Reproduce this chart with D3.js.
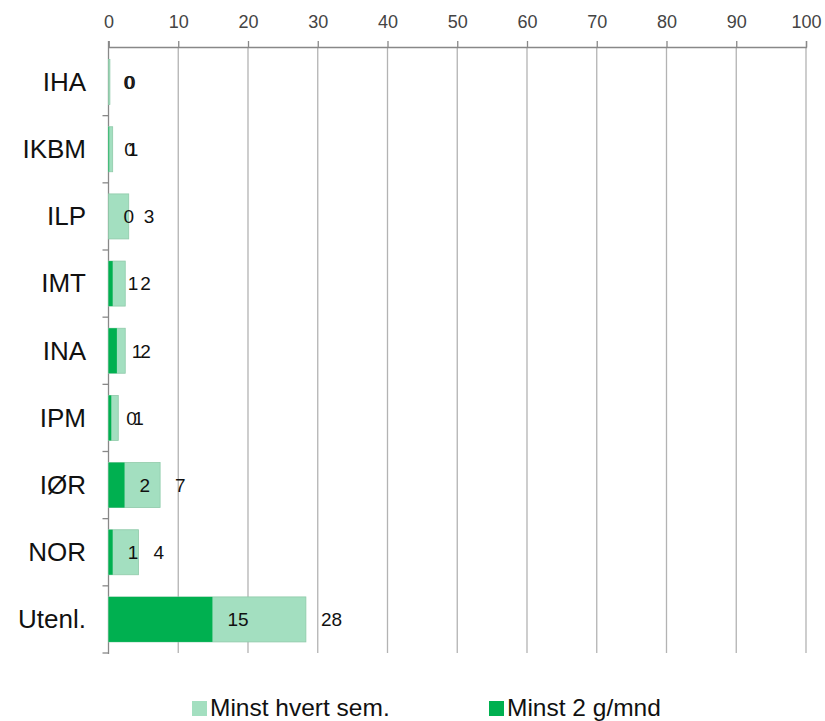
<!DOCTYPE html>
<html><head><meta charset="utf-8">
<script src="https://cdn.jsdelivr.net/npm/d3@7"></script>
<style>body{margin:0;background:#fff;} text{font-family:"Liberation Sans",Arial,sans-serif;}</style>
</head><body>
<svg id="c" width="825" height="721"></svg>
<script>
const categories = ["IHA","IKBM","ILP","IMT","INA","IPM","IØR","NOR","Utenl."];
const minstHvertSem = [0.2,0.6,2.9,2.4,2.4,1.4,7.4,4.3,28.3];
const minst2gMnd = [0.0,0.1,0.0,0.6,1.2,0.4,2.3,0.6,14.9];
const xTicks = [0,10,20,30,40,50,60,70,80,90,100];
const seriesNames = ["Minst hvert sem.","Minst 2 g/mnd"];
const colors = ["#a3dfc0","#00b050"];

const svg = d3.select("#c");
const x = d3.scaleLinear().domain([0,100]).range([108.5,806]);
const y = d3.scaleBand().domain(categories).range([48.5,653]).paddingInner(0.33).paddingOuter(0.165);

// gridlines
svg.append("g").selectAll("line").data(xTicks.filter(d=>d>0)).join("line")
  .attr("x1",d=>x(d)).attr("x2",d=>x(d)).attr("y1",47).attr("y2",653)
  .attr("stroke","#b3b3b3").attr("stroke-width",1.3);

// top axis
const ax = svg.append("g").attr("transform","translate(0,47)")
  .call(d3.axisTop(x).tickValues(xTicks).tickSize(6).tickPadding(13).tickFormat(d3.format("d")));
ax.select(".domain").attr("stroke","#888").attr("stroke-width",1.3);
ax.selectAll(".tick line").attr("stroke","#888").attr("stroke-width",1.3);
ax.selectAll("text").attr("font-size",18).attr("fill","#444").attr("font-family","'Liberation Sans',Arial,sans-serif");

// left axis
const band = y.step();
const ay = svg.append("g").attr("transform","translate(108.5,0)");
ay.append("line").attr("x1",0).attr("x2",0).attr("y1",41).attr("y2",654).attr("stroke","#888").attr("stroke-width",1.3);
const boundaries = d3.range(categories.length+1).map(i=>48.5+i*band);
ay.selectAll(".tk").data(boundaries.slice(1)).join("line").attr("class","tk")
  .attr("x1",-6).attr("x2",0).attr("y1",d=>d).attr("y2",d=>d).attr("stroke","#888").attr("stroke-width",1.3);
svg.append("g").selectAll("text").data(categories).join("text")
  .attr("x",86).attr("y",d=>y(d)+y.bandwidth()/2).attr("dy","0.34em")
  .attr("text-anchor","end").attr("font-size",26).attr("fill","#111").text(d=>d);

// bars
const series = [minstHvertSem, minst2gMnd];
series.forEach((vals,si)=>{
  const g = svg.append("g");
  g.selectAll("rect").data(categories).join("rect")
    .attr("x",x(0)).attr("y",d=>y(d))
    .attr("width",(d,i)=>Math.max(0,x(vals[i])-x(0)))
    .attr("height",y.bandwidth())
    .attr("fill",colors[si])
    .attr("stroke",si===0?"#8fcaa9":"none").attr("stroke-width",0.8);
});
// labels
series.forEach((vals,si)=>{
  svg.append("g").selectAll("text").data(categories).join("text")
    .attr("x",(d,i)=>x(vals[i])+15).attr("y",d=>y(d)+y.bandwidth()/2).attr("dy","0.36em")
    .attr("font-size",19).attr("fill","#111").text((d,i)=>Math.round(vals[i]));
});

// legend
const leg = svg.append("g");
const legItems = [{x:192,name:seriesNames[0],c:colors[0]},{x:489,name:seriesNames[1],c:colors[1]}];
legItems.forEach(it=>{
  leg.append("rect").attr("x",it.x).attr("y",701).attr("width",15).attr("height",15).attr("fill",it.c);
  leg.append("text").attr("x",it.x+18).attr("y",716).attr("font-size",24.5).attr("fill","#111").text(it.name);
});
</script>
</body></html>
